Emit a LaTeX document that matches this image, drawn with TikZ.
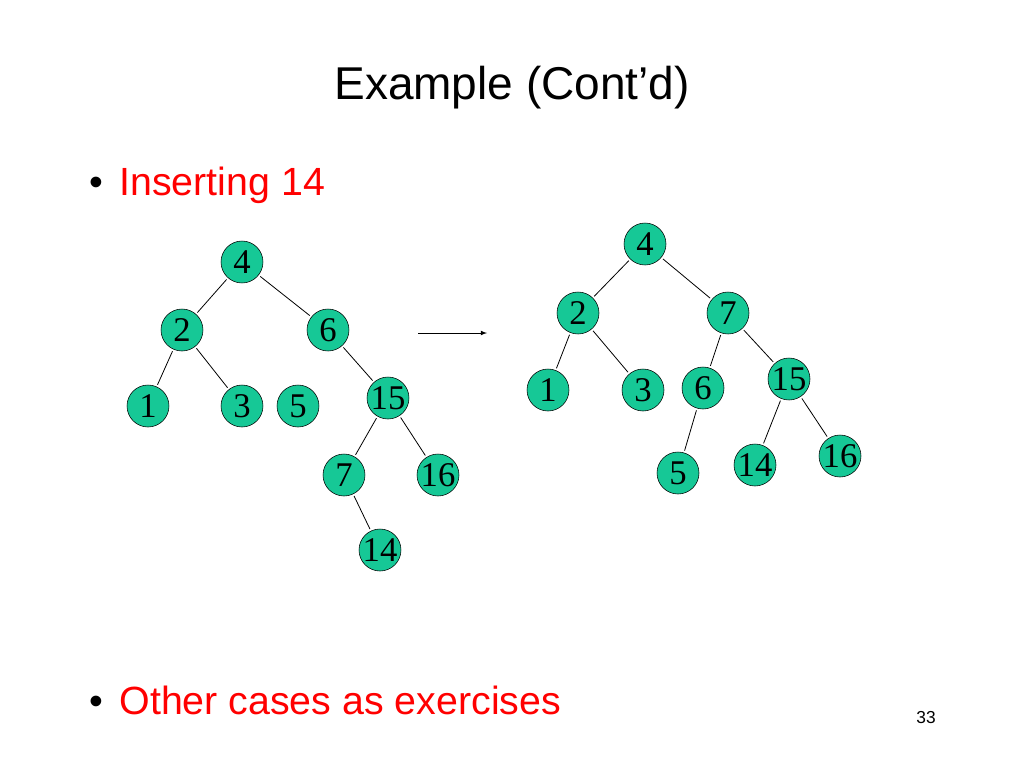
\documentclass[tikz,border=0pt]{standalone}
\usepackage{fontspec}
\setmainfont{Liberation Serif}
\newfontfamily\arial{Liberation Sans}
\definecolor{nodegreen}{RGB}{22,200,150}
\definecolor{slidered}{RGB}{255,0,0}
\begin{document}
\begin{tikzpicture}[x=0.75pt,y=-0.75pt,
  tn/.style={circle,draw=black,fill=nodegreen,minimum size=31.5pt,inner sep=0pt,font=\fontsize{26}{26}\selectfont},
  ed/.style={draw=black,line width=0.6pt,shorten >=1.5pt,shorten <=1.5pt}]
\useasboundingbox (0,0) rectangle (1024,768);
\node[font=\arial\fontsize{34.5}{34.5}\selectfont] (title) at (512,88) {Example (Cont’d)};
\node[anchor=west,font=\arial\fontsize{29.5}{29.5}\selectfont,text=slidered] (b1) at (85,185) {\textcolor{black}{\textbullet}\hspace{12pt}Inserting 14};
\node[anchor=west,font=\arial\fontsize{29.5}{29.5}\selectfont,text=slidered] (b2) at (85,700) {\textcolor{black}{\textbullet}\hspace{12pt}Other cases as exercises};
\node[font=\arial\fontsize{13}{13}\selectfont] (pg) at (926,718) {33};
% left tree
\node[tn] (a4) at (242,262) {4};
\node[tn] (a2) at (182,330) {2};
\node[tn] (a6) at (328,330) {6};
\node[tn] (a1) at (148,406) {1};
\node[tn] (a3) at (242,406) {3};
\node[tn] (a5) at (298,406) {5};
\node[tn] (a15) at (388,398) {15};
\node[tn] (a7) at (344,475) {7};
\node[tn] (a16) at (438,475) {16};
\node[tn] (a14) at (380,550) {14};
\draw[ed] (a4) -- (a2);
\draw[ed] (a4) -- (a6);
\draw[ed] (a2) -- (a1);
\draw[ed] (a2) -- (a3);
\draw[ed] (a6) -- (a15);
\draw[ed] (a15) -- (a7);
\draw[ed] (a15) -- (a16);
\draw[ed] (a7) -- (a14);
% arrow
\coordinate (ars) at (418,333);
\coordinate (are) at (487,333);
\draw[-latex,line width=0.6pt] (ars) -- (are);
% right tree
\node[tn] (b4) at (645,244) {4};
\node[tn] (bb2) at (578,313) {2};
\node[tn] (b7) at (728,313) {7};
\node[tn] (bb1) at (548,390) {1};
\node[tn] (b3) at (643,390) {3};
\node[tn] (b6) at (703,388) {6};
\node[tn] (b15) at (789,379) {15};
\node[tn] (b5) at (678,473) {5};
\node[tn] (b14) at (755,465) {14};
\node[tn] (b16) at (840,456) {16};
\draw[ed] (b4) -- (bb2);
\draw[ed] (b4) -- (b7);
\draw[ed] (bb2) -- (bb1);
\draw[ed] (bb2) -- (b3);
\draw[ed] (b7) -- (b6);
\draw[ed] (b7) -- (b15);
\draw[ed] (b6) -- (b5);
\draw[ed] (b15) -- (b14);
\draw[ed] (b15) -- (b16);
\end{tikzpicture}
\end{document}
